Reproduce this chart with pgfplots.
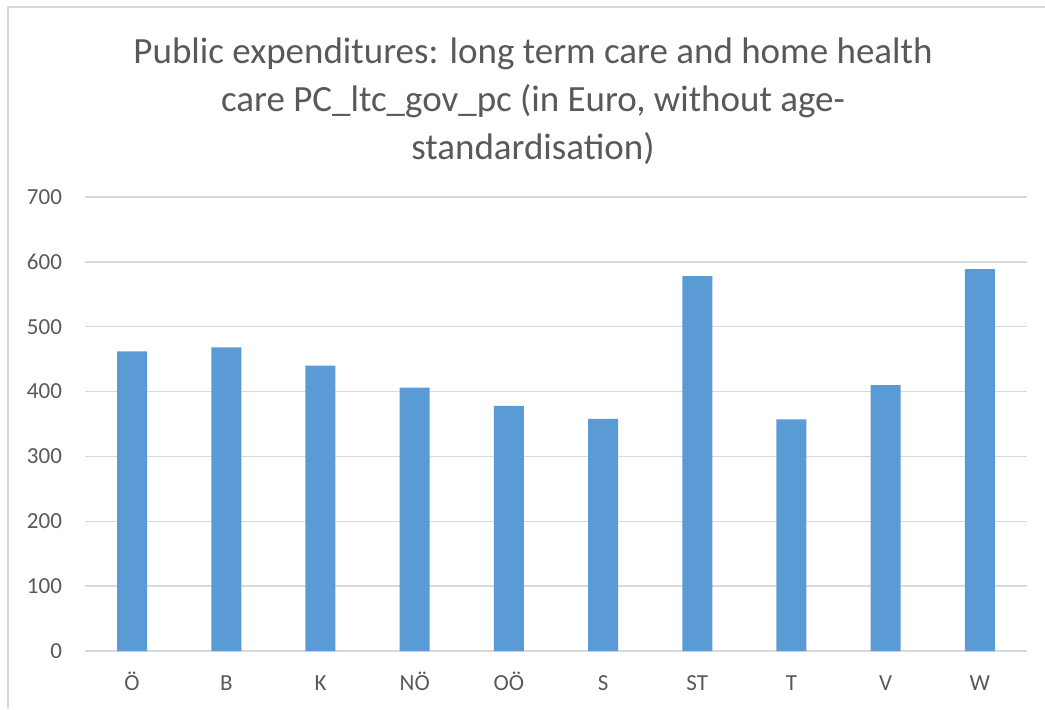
\documentclass[border=0pt]{standalone}
\usepackage{fontspec}
\setmainfont{Carlito}
\usepackage{pgfplots}
\pgfplotsset{compat=1.18}
\definecolor{barblue}{HTML}{5B9BD5}
\definecolor{gridgray}{HTML}{D9D9D9}
\definecolor{txtgray}{HTML}{595959}
\begin{document}
\begin{tikzpicture}
  \useasboundingbox (0,0) rectangle (522.5pt,354.5pt);
  \draw[gridgray, line width=0.6pt] (4pt,0) -- (4pt,351pt) -- (522.5pt,351pt);
  \node[font=\fontsize{18.5}{24}\selectfont, text=txtgray, align=center, anchor=center]
    at (266.5pt,304pt) {Public expenditures: long term care and home health\\care PC\_ltc\_gov\_pc (in Euro, without age-\\standardisation)};
  \begin{axis}[
      at={(42.5pt,29pt)}, anchor=south west,
      scale only axis,
      width=471pt, height=227pt,
      ybar, bar width=15pt,
      xmin=-0.5, xmax=9.5,
      ymin=0, ymax=700,
      ytick={0,100,...,700},
      xtick={0,...,9},
      xticklabels={Ö,B,K,NÖ,OÖ,S,ST,T,V,W},
      ymajorgrids,
      grid style={gridgray, line width=0.7pt},
      axis x line*=bottom,
      axis y line*=left,
      y axis line style={draw=none},
      x axis line style={gridgray, line width=0.7pt, -},
      major tick length=0pt,
      tick style={draw=none},
      /pgf/number format/assume math mode=true,
      ticklabel style={font=\fontsize{11.5}{13}\selectfont, text=txtgray},
      yticklabel style={xshift=-8pt},
      xticklabel style={anchor=base, yshift=-19.5pt},
    ]
    \addplot[fill=barblue, draw=none] coordinates {
      (0,462) (1,468) (2,440) (3,406) (4,378)
      (5,358) (6,578) (7,357) (8,410) (9,589)
    };
  \end{axis}
\end{tikzpicture}
\end{document}
